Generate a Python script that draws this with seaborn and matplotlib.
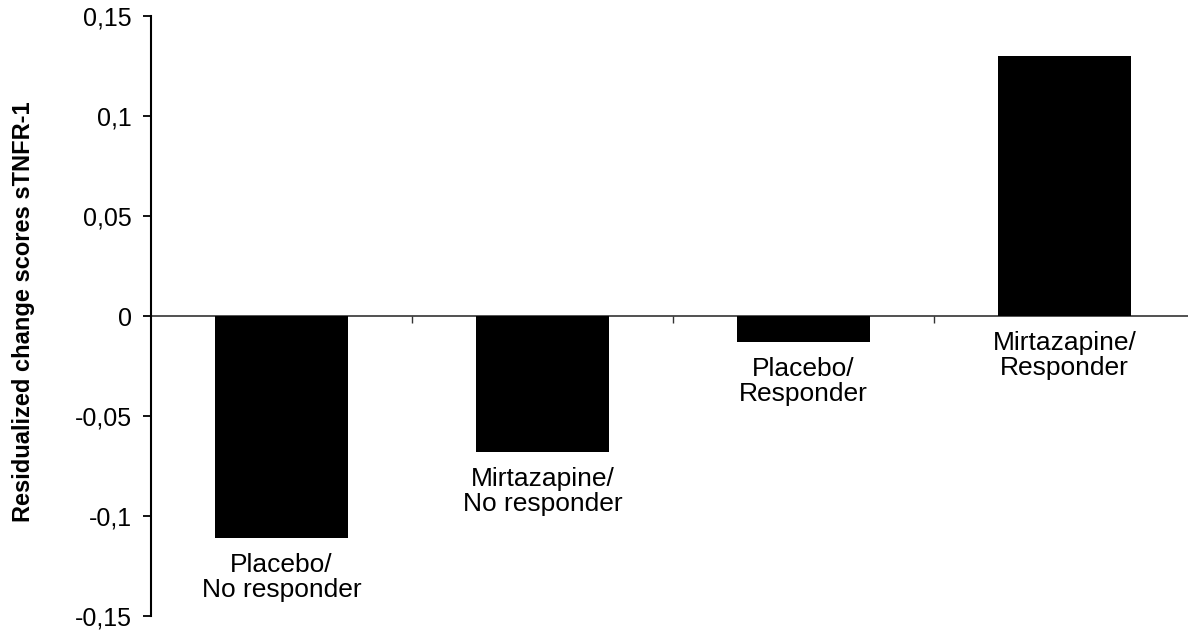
import matplotlib
matplotlib.use("Agg")
import pandas as pd
import seaborn as sns
import matplotlib.pyplot as plt

groups = ["Placebo/\nNo responder", "Mirtazapine/\nNo responder",
          "Placebo/\nResponder", "Mirtazapine/\nResponder"]
scores = [-0.111, -0.068, -0.013, 0.13]

y_ticks = [-0.15, -0.1, -0.05, 0, 0.05, 0.1, 0.15]
y_tick_labels = ["-0,15", "-0,1", "-0,05", "0", "0,05", "0,1", "0,15"]
x_boundaries = [0.5, 1.5, 2.5, 3.5]

df = pd.DataFrame({"Group": groups, "Score": scores})

sns.set_theme(style="white")
plt.rcParams['font.family'] = ['Liberation Sans', 'DejaVu Sans']
plt.rcParams['text.color'] = 'black'
plt.rcParams['ytick.color'] = 'black'
plt.rcParams['xtick.color'] = 'black'

fig = plt.figure(figsize=(11.88, 6.3), dpi=100)
ax = fig.add_axes([151 / 1188, 14 / 630, 1044 / 1188, 600 / 630])

sns.barplot(data=df, x="Group", y="Score", color="black", saturation=1,
            width=0.51, linewidth=0, ax=ax)

ax.set_xlim(-0.5, 3.5)
ax.set_ylim(-0.15, 0.15)

ax.spines['top'].set_visible(False)
ax.spines['right'].set_visible(False)
ax.spines['left'].set_linewidth(1.5)
ax.spines['left'].set_color("black")
ax.spines['bottom'].set_position(('data', 0))
ax.spines['bottom'].set_linewidth(1.2)
ax.spines['bottom'].set_color("#333333")
ax.spines['bottom'].set_zorder(0)

ax.set_yticks(y_ticks)
ax.set_yticklabels(y_tick_labels, fontsize=18, color='black')
ax.tick_params(axis='y', direction='out', length=6, width=1.3, color='black',
               left=True, pad=8)

ax.set_xticks(x_boundaries)
ax.set_xticklabels([])
ax.tick_params(axis='x', direction='out', length=5, width=1, color='#333333',
               bottom=True)

ax.set_xlabel("")
ax.set_ylabel("")
fig.text(24 / 1188, 1 - 312 / 630, "Residualized change scores sTNFR-1",
         rotation=90, ha='center', va='center', fontsize=17,
         fontweight='bold', color='black')

for i, (label, val) in enumerate(zip(groups, scores)):
    ax.annotate(label, (i, min(val, 0)), xytext=(0, -11),
                textcoords='offset points', ha='center', va='top',
                fontsize=19, linespacing=1.05, color='black')

plt.savefig('out.png', dpi=100)
plt.close()
